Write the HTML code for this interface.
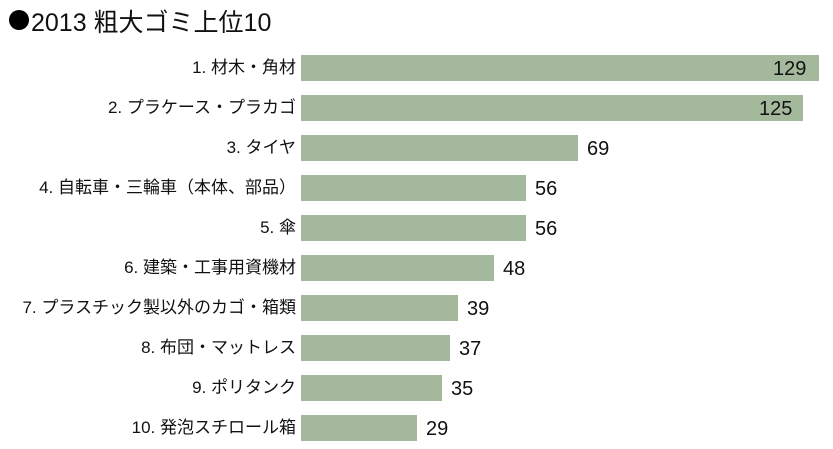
<!DOCTYPE html>
<html><head><meta charset="utf-8"><style>
body{margin:0;width:833px;height:449px;background:#fff;position:relative;overflow:hidden;font-family:"Liberation Sans","Noto Sans CJK JP",sans-serif;color:#111}
.dot{position:absolute;left:9px;top:10px;width:20px;height:20px;border-radius:50%;background:#000}
.t{position:absolute;left:31px;top:3px;font-size:25px;white-space:nowrap}
.l{position:absolute;right:537px;font-size:17px;white-space:nowrap;line-height:26px}
.b{position:absolute;left:301px;height:26px;background:#a4b89b}
.v{position:absolute;font-size:20px;line-height:26px}
</style></head><body>
<div class="dot"></div><div class="t">2013 粗大ゴミ上位10</div>
<div class="l" style="top:55px">1. 材木・角材</div><div class="b" style="top:55px;width:518px"></div><div class="v" style="top:56px;left:773px">129</div>
<div class="l" style="top:95px">2. プラケース・プラカゴ</div><div class="b" style="top:95px;width:502px"></div><div class="v" style="top:96px;left:759px">125</div>
<div class="l" style="top:135px">3. タイヤ</div><div class="b" style="top:135px;width:277px"></div><div class="v" style="top:136px;left:587px">69</div>
<div class="l" style="top:175px">4. 自転車・三輪車（本体、部品）</div><div class="b" style="top:175px;width:225px"></div><div class="v" style="top:176px;left:535px">56</div>
<div class="l" style="top:215px">5. 傘</div><div class="b" style="top:215px;width:225px"></div><div class="v" style="top:216px;left:535px">56</div>
<div class="l" style="top:255px">6. 建築・工事用資機材</div><div class="b" style="top:255px;width:193px"></div><div class="v" style="top:256px;left:503px">48</div>
<div class="l" style="top:295px">7. プラスチック製以外のカゴ・箱類</div><div class="b" style="top:295px;width:157px"></div><div class="v" style="top:296px;left:467px">39</div>
<div class="l" style="top:335px">8. 布団・マットレス</div><div class="b" style="top:335px;width:149px"></div><div class="v" style="top:336px;left:459px">37</div>
<div class="l" style="top:375px">9. ポリタンク</div><div class="b" style="top:375px;width:141px"></div><div class="v" style="top:376px;left:451px">35</div>
<div class="l" style="top:415px">10. 発泡スチロール箱</div><div class="b" style="top:415px;width:116px"></div><div class="v" style="top:416px;left:426px">29</div>
</body></html>
